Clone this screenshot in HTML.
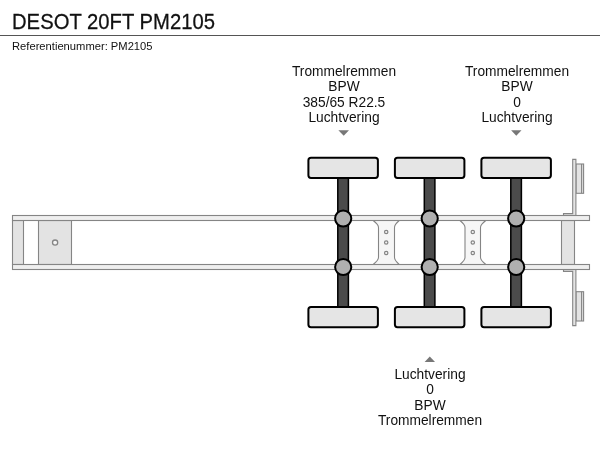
<!DOCTYPE html>
<html><head><meta charset="utf-8">
<style>
html,body{margin:0;padding:0;background:#fff;}
body{width:600px;height:450px;overflow:hidden;position:relative;font-family:"Liberation Sans",sans-serif;color:#111;}
#title,#ref,.lbl{will-change:transform;}
#title{position:absolute;left:12px;top:10px;font-size:20.25px;line-height:24px;white-space:nowrap;transform:scale(1,1.055);transform-origin:0 19.2px;-webkit-text-stroke:0.25px #111;}
#rule{position:absolute;left:0;top:35px;width:600px;height:1px;background:#555;}
#ref{position:absolute;left:12px;top:39px;font-size:11.2px;line-height:14px;white-space:nowrap;}
.lbl{position:absolute;width:160px;text-align:center;font-size:13.75px;line-height:15.3px;white-space:nowrap;}
svg{position:absolute;left:0;top:0;}
</style></head><body>
<div id="title">DESOT 20FT PM2105</div>
<div id="rule"></div>
<div id="ref">Referentienummer: PM2105</div>
<div class="lbl" style="left:264px;top:64.1px;">Trommelremmen<br>BPW<br>385/65 R22.5<br>Luchtvering</div>
<div class="lbl" style="left:436.5px;top:64.1px;">Trommelremmen<br>BPW<br>0<br>Luchtvering</div>
<div class="lbl" style="left:349.7px;top:366.6px;">Luchtvering<br>0<br>BPW<br>Trommelremmen</div>
<svg width="600" height="450" viewBox="0 0 600 450">
<!-- arrows -->
<polygon points="338.4,130.3 349,130.3 343.7,135.7" fill="#777"/>
<polygon points="511.1,130.3 521.5,130.3 516.3,135.7" fill="#777"/>
<polygon points="424.6,361.9 435,361.9 429.8,356.5" fill="#777"/>
<!-- left chassis -->
<g stroke="#858585" stroke-width="1.1" fill="#e3e3e3">
<rect x="12.5" y="220.5" width="11" height="44"/>
<rect x="38.5" y="220.5" width="33" height="44"/>
<circle cx="55.1" cy="242.6" r="2.6" fill="#f4f4f4" stroke-width="1.3"/>
<!-- rear block -->
<rect x="561.5" y="220.5" width="13" height="44"/>
<!-- cross members -->
<g fill="#f6f6f6">
<path d="M373.2 220.5 L399.2 220.5 Q394.5 224.6 394.5 227.4 L394.5 257.6 Q394.5 260.4 399.2 264.5 L373.2 264.5 Q378.5 260.4 378.5 257.6 L378.5 227.4 Q378.5 224.6 373.2 220.5Z"/>
<path d="M460 220.5 L485.8 220.5 Q480.5 224.6 480.5 227.4 L480.5 257.6 Q480.5 260.4 485.8 264.5 L460 264.5 Q465 260.4 465 257.6 L465 227.4 Q465 224.6 460 220.5Z"/>
<circle cx="386.2" cy="232" r="1.7" stroke-width="1.2"/><circle cx="386.2" cy="242.5" r="1.7" stroke-width="1.2"/><circle cx="386.2" cy="253" r="1.7" stroke-width="1.2"/>
<circle cx="472.8" cy="232" r="1.7" stroke-width="1.2"/><circle cx="472.8" cy="242.5" r="1.7" stroke-width="1.2"/><circle cx="472.8" cy="253" r="1.7" stroke-width="1.2"/>
</g>
<!-- bumper -->
<g fill="#e3e3e3">
<rect x="576" y="164" width="7.6" height="29.3"/><line x1="581.6" y1="164" x2="581.6" y2="193.3"/>
<rect x="576" y="291.7" width="7.6" height="29.3"/><line x1="581.6" y1="291.7" x2="581.6" y2="321"/>
</g>
<g fill="#e4e4e4">
<path d="M572.7 159.4 L575.9 159.4 L575.9 215.5 L563.5 215.5 L563.5 213.6 L572.7 213.6Z"/>
<path d="M572.7 325.6 L575.9 325.6 L575.9 269.5 L563.5 269.5 L563.5 271.4 L572.7 271.4Z"/>
</g>
<!-- rails -->
<rect x="12.5" y="215.5" width="577" height="5" fill="#efefef"/>
<rect x="12.5" y="264.5" width="577" height="5" fill="#efefef"/>
</g>
<!-- axles -->
<g>
<rect x="337.8" y="178" width="10.6" height="129" fill="#4b4b4b" stroke="#000" stroke-width="1.5"/>
<rect x="308.4" y="157.7" width="69.5" height="20.2" rx="2.6" fill="#e5e5e5" stroke="#000" stroke-width="2"/>
<rect x="308.4" y="307" width="69.5" height="20.2" rx="2.6" fill="#e5e5e5" stroke="#000" stroke-width="2"/>
<circle cx="343.2" cy="218.5" r="8.1" fill="#b0b0b0" stroke="#000" stroke-width="2"/>
<circle cx="343.2" cy="267" r="8.1" fill="#b0b0b0" stroke="#000" stroke-width="2"/>
</g>
<g transform="translate(86.5,0)">
<rect x="337.8" y="178" width="10.6" height="129" fill="#4b4b4b" stroke="#000" stroke-width="1.5"/>
<rect x="308.4" y="157.7" width="69.5" height="20.2" rx="2.6" fill="#e5e5e5" stroke="#000" stroke-width="2"/>
<rect x="308.4" y="307" width="69.5" height="20.2" rx="2.6" fill="#e5e5e5" stroke="#000" stroke-width="2"/>
<circle cx="343.2" cy="218.5" r="8.1" fill="#b0b0b0" stroke="#000" stroke-width="2"/>
<circle cx="343.2" cy="267" r="8.1" fill="#b0b0b0" stroke="#000" stroke-width="2"/>
</g>
<g transform="translate(173,0)">
<rect x="337.8" y="178" width="10.6" height="129" fill="#4b4b4b" stroke="#000" stroke-width="1.5"/>
<rect x="308.4" y="157.7" width="69.5" height="20.2" rx="2.6" fill="#e5e5e5" stroke="#000" stroke-width="2"/>
<rect x="308.4" y="307" width="69.5" height="20.2" rx="2.6" fill="#e5e5e5" stroke="#000" stroke-width="2"/>
<circle cx="343.2" cy="218.5" r="8.1" fill="#b0b0b0" stroke="#000" stroke-width="2"/>
<circle cx="343.2" cy="267" r="8.1" fill="#b0b0b0" stroke="#000" stroke-width="2"/>
</g>
</svg>
</body></html>
